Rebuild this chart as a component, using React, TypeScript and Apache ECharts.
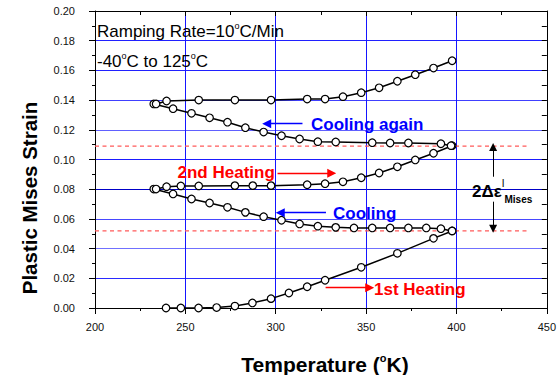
import React, { useEffect, useRef } from "react";
import * as echarts from "echarts";

const FONT = "'Liberation Sans', Arial, sans-serif";

// 1st heating
const heat1T = [239.3, 247.5, 257.3, 267.3, 277.4, 287.1, 297.4, 307.3, 317.4, 327.3, 347.3, 367.3, 387.3, 397.6];
const heat1V = [0, 0, 0, 0.0003, 0.0013, 0.0034, 0.0063, 0.0101, 0.0143, 0.0187, 0.0274, 0.0368, 0.0469, 0.0519];
// cooling
const cool1T = [397.6, 391.4, 383.3, 373.4, 363.3, 353.4, 343.3, 333.2, 323.3, 313.2, 303.2, 293.3, 283.2, 273.3, 263.4, 253.4, 243.2, 232.5];
const cool1V = [0.0519, 0.0534, 0.0539, 0.0539, 0.0539, 0.0539, 0.0539, 0.0543, 0.0551, 0.0566, 0.0591, 0.0615, 0.0644, 0.0678, 0.0707, 0.0734, 0.0768, 0.0801];
// 2nd heating
const heat2T = [233.8, 239.6, 247.5, 257.4, 277.4, 287.3, 297.4, 317.4, 327.3, 337.2, 347.3, 357.2, 367.3, 377.2, 387.3, 397.6];
const heat2V = [0.0801, 0.0817, 0.0822, 0.0822, 0.0824, 0.0824, 0.0824, 0.083, 0.0837, 0.085, 0.0877, 0.0909, 0.0951, 0.0997, 0.1042, 0.1093];
// cooling again
const cool2T = [397.0, 391.4, 373.4, 363.3, 353.4, 333.2, 323.3, 313.2, 303.2, 293.3, 283.2, 273.3, 263.4, 253.4, 243.2, 232.5];
const cool2V = [0.1093, 0.1106, 0.1111, 0.1111, 0.1113, 0.1118, 0.112, 0.1138, 0.116, 0.1185, 0.1214, 0.1251, 0.1281, 0.1311, 0.1342, 0.1374];
// 3rd heating
const heat3T = [233.8, 239.6, 257.4, 277.4, 297.4, 317.4, 327.3, 337.2, 347.3, 357.2, 367.3, 377.2, 387.3, 397.6];
const heat3V = [0.1374, 0.1394, 0.140, 0.140, 0.140, 0.1407, 0.1407, 0.1423, 0.145, 0.1483, 0.1527, 0.1571, 0.1616, 0.1665];

// reference (dashed) levels
const refLevels = [0.109, 0.052];
const refRange = [200, 439.5];

// annotation arrows [x1, y1, x2, y2] in data units
const blueArrows = [
  [314.8, 0.1241, 295.0, 0.1241],
  [327.8, 0.0642, 302.5, 0.0642],
];
const redArrows = [
  [301.0, 0.0907, 331.0, 0.0907],
  [327.6, 0.0137, 352.0, 0.0137],
];
const blackArrows = [
  [420.3, 0.0884, 420.3, 0.1085],
  [420.3, 0.0716, 420.3, 0.0533],
];

const xMin = 200, xMax = 450, xStep = 50;
const yMin = 0, yMax = 0.2, yStep = 0.02;

const zip = (a: number[], b: number[]) => a.map((v, i) => [v, b[i]]);

export default function App() {
  const ref = useRef<HTMLDivElement>(null);
  useEffect(() => {
    if (!ref.current) return;
    const chart = echarts.init(ref.current, null, { renderer: "svg" });
    const curve = (name: string, t: number[], v: number[]) => ({
      name,
      type: "line",
      data: zip(t, v),
      symbol: "circle",
      symbolSize: 7.5,
      showSymbol: true,
      silent: true,
      z: 5,
      itemStyle: { color: "#fff", borderColor: "#000", borderWidth: 1.2 },
      lineStyle: { color: "#000", width: 1.5 },
    });
    const arrowSeries = (arrs: number[][], color: string, width: number, size: number[]) => ({
      type: "lines",
      coordinateSystem: "cartesian2d",
      silent: true,
      z: 6,
      symbol: ["none", "triangle"],
      symbolSize: size,
      lineStyle: { color, width, opacity: 1, curveness: 0 },
      data: arrs.map((a) => ({ coords: [[a[0], a[1]], [a[2], a[3]]] })),
    });
    const supRich = {
      b: { fontFamily: FONT, fontSize: 17, lineHeight: 20, color: "#000" },
      s: { fontFamily: FONT, fontSize: 9, lineHeight: 9, color: "#000", verticalAlign: "top" },
    };
    chart.setOption({
      animation: false,
      backgroundColor: "#fff",
      grid: { left: 95, right: 10, top: 11, bottom: 67, containLabel: false },
      xAxis: [
        {
          type: "value", min: xMin, max: xMax, interval: xStep, position: "bottom",
          axisLine: { show: true, onZero: false, lineStyle: { color: "#000", width: 1 } },
          axisTick: { show: true, inside: false, length: 6, lineStyle: { color: "#000" } },
          minorTick: { show: true, splitNumber: 2, length: 3, lineStyle: { color: "#000" } },
          axisLabel: { margin: 13, color: "#111", fontSize: 11, fontFamily: FONT },
          splitLine: { show: true, lineStyle: { color: ["#000", "#1515ff", "#1515ff", "#1515ff", "#1515ff", "#000"], width: 1 } },
        },
        {
          type: "value", min: xMin, max: xMax, interval: xStep, position: "top",
          axisLine: { show: true, onZero: false, lineStyle: { color: "#000", width: 1 } },
          axisTick: { show: true, inside: true, length: 5, lineStyle: { color: "#000" } },
          minorTick: { show: true, splitNumber: 2, length: 4, lineStyle: { color: "#000" } },
          axisLabel: { show: false },
          splitLine: { show: false },
        },
      ],
      yAxis: [
        {
          type: "value", min: yMin, max: yMax, interval: yStep, position: "left",
          axisLine: { show: true, onZero: false, lineStyle: { color: "#000", width: 1 } },
          axisTick: { show: true, inside: false, length: 6, lineStyle: { color: "#000" } },
          minorTick: { show: true, splitNumber: 2, length: 3, lineStyle: { color: "#000" } },
          axisLabel: { margin: 20, color: "#111", fontSize: 11, fontFamily: FONT, formatter: (v: number) => v.toFixed(2) },
          splitLine: {
            show: true,
            lineStyle: {
              width: 1.2,
              color: ["#000", "#2a2aff", "#7070ff", "#4848ff", "#0000c8", "#1a1aff", "#6060ff", "#4040ff", "#2020ff", "#2020ff", "#000"],
            },
          },
        },
        {
          type: "value", min: yMin, max: yMax, interval: yStep, position: "right",
          axisLine: { show: true, onZero: false, lineStyle: { color: "#000", width: 1 } },
          axisTick: { show: true, inside: true, length: 5, lineStyle: { color: "#000" } },
          minorTick: { show: true, splitNumber: 2, length: 5, lineStyle: { color: "#000" } },
          axisLabel: { show: false },
          splitLine: { show: false },
        },
      ],
      series: [
        ...refLevels.map((lv) => ({
          type: "line",
          data: [[refRange[0], lv], [refRange[1], lv]],
          symbol: "none",
          silent: true,
          z: 3,
          lineStyle: { color: "#ff5a5a", width: 1.3, type: [4, 3.5] },
        })),
        curve("1st Heating", heat1T, heat1V),
        curve("Cooling", cool1T, cool1V),
        curve("2nd Heating", heat2T, heat2V),
        curve("Cooling again", cool2T, cool2V),
        curve("3rd Heating", heat3T, heat3V),
        arrowSeries(blueArrows, "#0000ff", 1.3, [7, 9]),
        arrowSeries(redArrows, "#ff0000", 1.3, [6, 9]),
        arrowSeries(blackArrows, "#000", 1, [5, 8]),
      ],
      graphic: [
        {
          type: "text", x: 97, y: 31, z: 10,
          style: { text: "{b|Ramping Rate=10}{s|o}{b|C/Min}", rich: supRich, align: "left", verticalAlign: "middle" },
        },
        {
          type: "text", x: 97, y: 61, z: 10,
          style: { text: "{b|-40}{s|o}{b|C to 125}{s|o}{b|C}", rich: supRich, align: "left", verticalAlign: "middle" },
        },
        {
          type: "text", x: 311, y: 124.5, z: 10,
          style: { text: "Cooling again", font: `bold 17px ${FONT}`, fill: "#0000ff", align: "left", verticalAlign: "middle" },
        },
        {
          type: "text", x: 177.5, y: 172, z: 10,
          style: { text: "2nd Heating", font: `bold 17px ${FONT}`, fill: "#ff0000", align: "left", verticalAlign: "middle" },
        },
        {
          type: "text", x: 333, y: 213.5, z: 10,
          style: { text: "Cooling", font: `bold 17px ${FONT}`, fill: "#0000ff", align: "left", verticalAlign: "middle" },
        },
        {
          type: "text", x: 374, y: 289.5, z: 10,
          style: { text: "1st Heating", font: `bold 17px ${FONT}`, fill: "#ff0000", align: "left", verticalAlign: "middle" },
        },
        {
          type: "text", x: 472, y: 191.7, z: 10,
          style: {
            text: "{m|2Δε}{p|I}{q|Mises}",
            align: "left", verticalAlign: "middle",
            rich: {
              m: { fontFamily: FONT, fontWeight: "bold", fontSize: 17, lineHeight: 26, color: "#000" },
              p: { fontFamily: FONT, fontSize: 10, lineHeight: 10, color: "#000", verticalAlign: "top" },
              q: { fontFamily: FONT, fontWeight: "bold", fontSize: 10, lineHeight: 10, color: "#000", verticalAlign: "bottom" },
            },
          },
        },
        {
          type: "text", x: 325, y: 364, z: 10,
          style: {
            text: "{b|Temperature (}{s|o}{b|K)}",
            align: "center", verticalAlign: "middle",
            rich: {
              b: { fontFamily: FONT, fontWeight: "bold", fontSize: 21, lineHeight: 24, color: "#000" },
              s: { fontFamily: FONT, fontWeight: "bold", fontSize: 11, lineHeight: 11, color: "#000", verticalAlign: "top" },
            },
          },
        },
        {
          type: "text", x: 29, y: 198, z: 10, rotation: Math.PI / 2,
          style: { text: "Plastic Mises Strain", font: `bold 20.5px ${FONT}`, fill: "#000", align: "center", verticalAlign: "middle" },
        },
      ],
    });
    return () => chart.dispose();
  }, []);
  return (
    <div
      ref={ref}
      style={{ position: "fixed", left: 0, top: 0, width: 559, height: 375, background: "#fff" }}
    />
  );
}
